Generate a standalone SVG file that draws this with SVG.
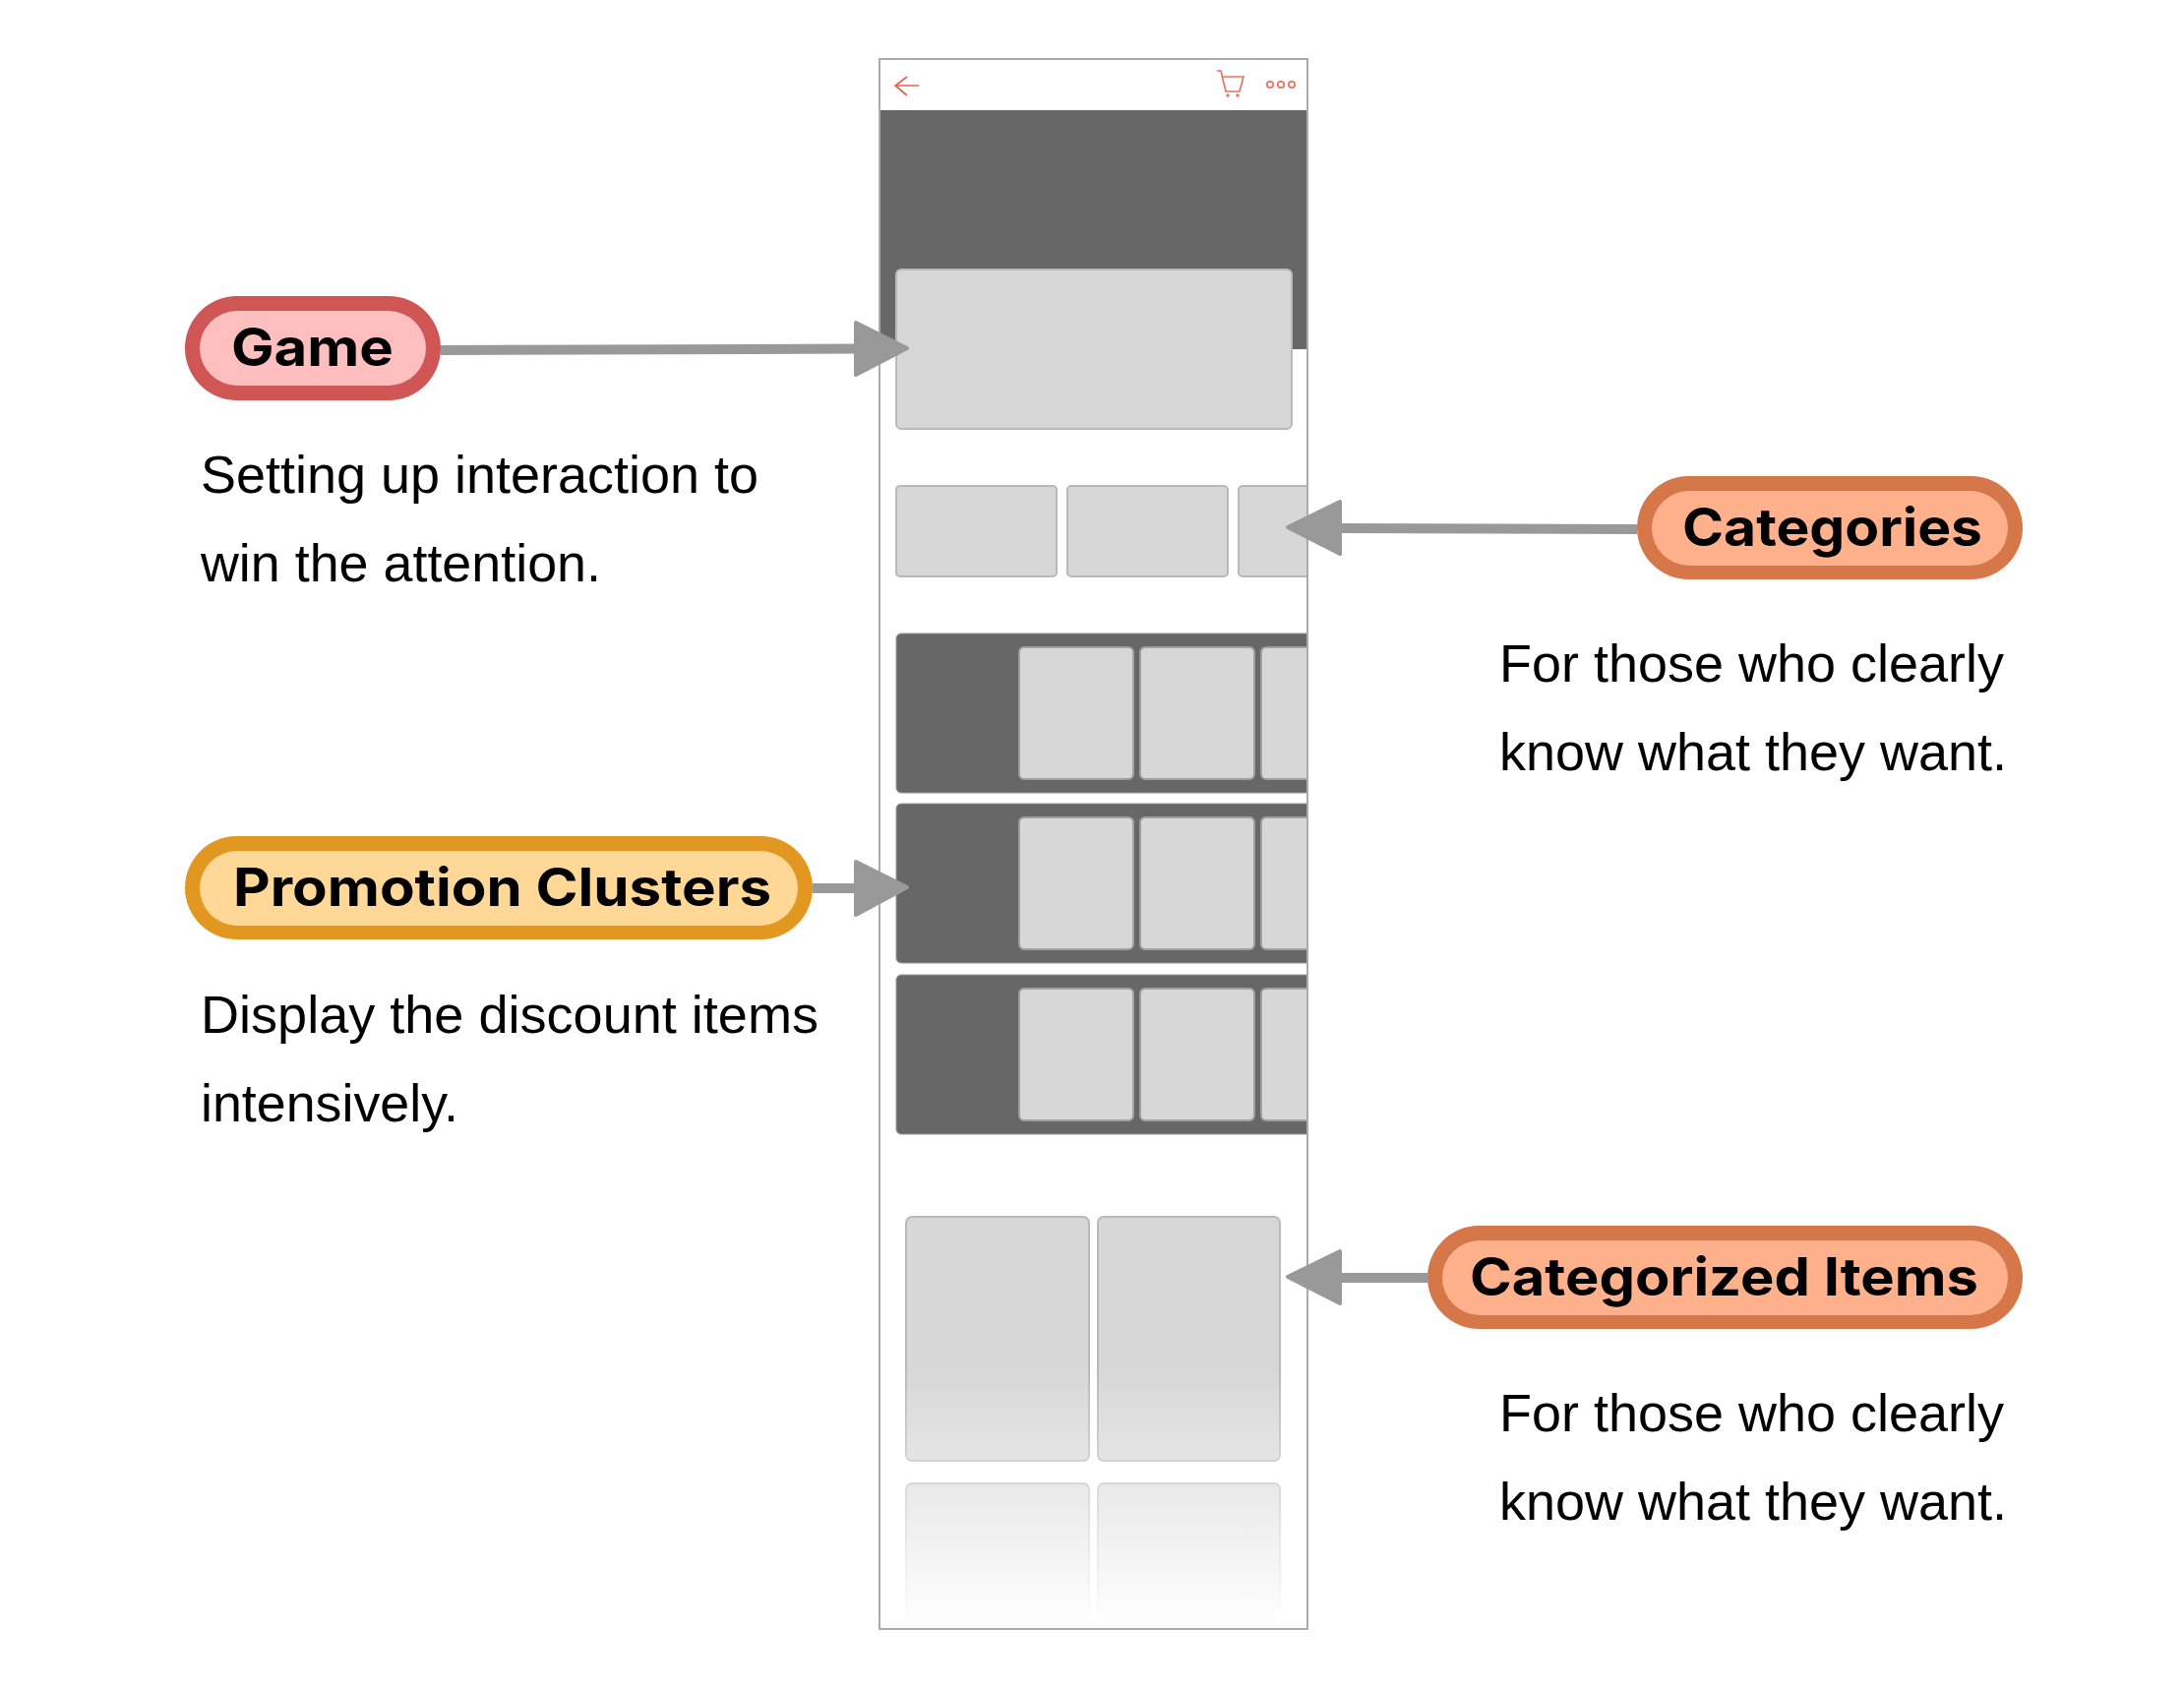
<svg xmlns="http://www.w3.org/2000/svg" width="2220" height="1716" viewBox="0 0 2220 1716">
<defs>
<style>
.label{font-family:"Inter","Liberation Sans",sans-serif;font-weight:700;font-size:53px;fill:#000}
.desc{font-family:"Liberation Sans",Arial,sans-serif;font-size:53px;fill:#000}
.card{fill:#d7d7d7;stroke:#b9b9b9;stroke-width:2}
.dark{fill:#676767;stroke:#999;stroke-width:1}
.conn{stroke:#999;stroke-width:10;fill:none}
.head{fill:#999;stroke:#999;stroke-width:4;stroke-linejoin:round}
.ico{fill:none;stroke:#e9735f;stroke-width:1.7}
.inner{stroke:#a0a0a0}
</style>
<linearGradient id="fade" gradientUnits="userSpaceOnUse" x1="0" y1="1390" x2="0" y2="1650">
<stop offset="0" stop-color="#fff" stop-opacity="0"/>
<stop offset="0.36" stop-color="#fff" stop-opacity="0.35"/>
<stop offset="1" stop-color="#fff" stop-opacity="1"/>
</linearGradient>
<clipPath id="screen"><rect x="895" y="61" width="433" height="1594"/></clipPath>
</defs>
<rect width="2220" height="1716" fill="#fff"/>
<g id="phone">
<rect x="894" y="60" width="435" height="1596" fill="#fff" stroke="#aaa" stroke-width="2"/>
<g id="phone-header">
<path class="ico" style="stroke:#e9604a" d="M934 87H910M922 78L910 87L922 97"/>
<path class="ico" d="M1237 72H1241L1246 93H1260L1264 78H1242"/>
<circle cx="1248" cy="97" r="1.7" fill="#e9735f"/><circle cx="1258" cy="97" r="1.7" fill="#e9735f"/>
<circle class="ico" cx="1291" cy="86" r="3.2"/><circle class="ico" cx="1302" cy="86" r="3.2"/><circle class="ico" cx="1313" cy="86" r="3.2"/>
</g>
<g clip-path="url(#screen)">
<rect x="895" y="112" width="433" height="243" fill="#676767"/>
<rect class="card" x="911" y="274" width="402" height="162" rx="5"/>
<g id="phone-categories">
<rect class="card" x="911" y="494" width="163" height="92" rx="4"/>
<rect class="card" x="1085" y="494" width="163" height="92" rx="4"/>
<rect class="card" x="1259" y="494" width="95" height="92" rx="4"/>
</g>
<g id="phone-clusters">
<rect class="dark" x="911" y="644" width="450" height="162" rx="5"/>
<rect class="dark" x="911" y="817" width="450" height="162" rx="5"/>
<rect class="dark" x="911" y="991" width="450" height="162" rx="5"/>
<rect class="card inner" x="1036" y="658" width="116" height="134" rx="5"/>
<rect class="card inner" x="1159" y="658" width="116" height="134" rx="5"/>
<rect class="card inner" x="1282" y="658" width="90" height="134" rx="5"/>
<rect class="card inner" x="1036" y="831" width="116" height="134" rx="5"/>
<rect class="card inner" x="1159" y="831" width="116" height="134" rx="5"/>
<rect class="card inner" x="1282" y="831" width="90" height="134" rx="5"/>
<rect class="card inner" x="1036" y="1005" width="116" height="134" rx="5"/>
<rect class="card inner" x="1159" y="1005" width="116" height="134" rx="5"/>
<rect class="card inner" x="1282" y="1005" width="90" height="134" rx="5"/>
</g>
<g id="phone-items">
<rect class="card" x="921" y="1237" width="186" height="248" rx="6"/>
<rect class="card" x="1116" y="1237" width="185" height="248" rx="6"/>
<rect class="card" x="921" y="1508" width="186" height="200" rx="6"/>
<rect class="card" x="1116" y="1508" width="185" height="200" rx="6"/>
<rect x="895" y="1390" width="433" height="266" fill="url(#fade)"/>
</g>
</g>
</g>
<g id="connectors">
<path class="conn" d="M448 356L872 354.5"/>
<path class="head" d="M870 328L922 354L870 381Z"/>
<path class="conn" d="M826 903H872"/>
<path class="head" d="M870 876L922 902L870 930Z"/>
<path class="conn" d="M1664 538L1362 537"/>
<path class="head" d="M1362 510L1309 536L1362 563Z"/>
<path class="conn" d="M1451 1299H1362"/>
<path class="head" d="M1362 1272L1309 1298L1362 1325Z"/>
</g>
<g id="node-game">
<rect x="188" y="301" width="260" height="106" rx="53" fill="#d05555"/>
<rect x="203" y="316" width="230" height="76" rx="38" fill="#ffbfbf"/>
<text class="label" x="235" y="372" textLength="165" lengthAdjust="spacingAndGlyphs">Game</text>
<text class="desc" x="204" y="501" textLength="567" lengthAdjust="spacingAndGlyphs">Setting up interaction to</text>
<text class="desc" x="204" y="591" textLength="407" lengthAdjust="spacingAndGlyphs">win the attention.</text>
</g>
<g id="node-promotion">
<rect x="188" y="850" width="638" height="105" rx="52.5" fill="#e29820"/>
<rect x="203" y="865" width="608" height="76" rx="38" fill="#ffd797"/>
<text class="label" x="237" y="921" textLength="547" lengthAdjust="spacingAndGlyphs">Promotion Clusters</text>
<text class="desc" x="204" y="1050" textLength="628" lengthAdjust="spacingAndGlyphs">Display the discount items</text>
<text class="desc" x="204" y="1140" textLength="262" lengthAdjust="spacingAndGlyphs">intensively.</text>
</g>
<g id="node-categories">
<rect x="1664" y="484" width="392" height="105" rx="52.5" fill="#d57748"/>
<rect x="1679" y="499" width="362" height="76" rx="38" fill="#ffb18c"/>
<text class="label" x="1710" y="555" textLength="305" lengthAdjust="spacingAndGlyphs">Categories</text>
<text class="desc" x="1524" y="693" textLength="513" lengthAdjust="spacingAndGlyphs">For those who clearly</text>
<text class="desc" x="1524" y="783" textLength="516" lengthAdjust="spacingAndGlyphs">know what they want.</text>
</g>
<g id="node-items">
<rect x="1451" y="1246" width="605" height="105" rx="52.5" fill="#d57748"/>
<rect x="1466" y="1261" width="575" height="76" rx="38" fill="#ffb18c"/>
<text class="label" x="1494" y="1317" textLength="517" lengthAdjust="spacingAndGlyphs">Categorized Items</text>
<text class="desc" x="1524" y="1455" textLength="513" lengthAdjust="spacingAndGlyphs">For those who clearly</text>
<text class="desc" x="1524" y="1545" textLength="516" lengthAdjust="spacingAndGlyphs">know what they want.</text>
</g>
</svg>
